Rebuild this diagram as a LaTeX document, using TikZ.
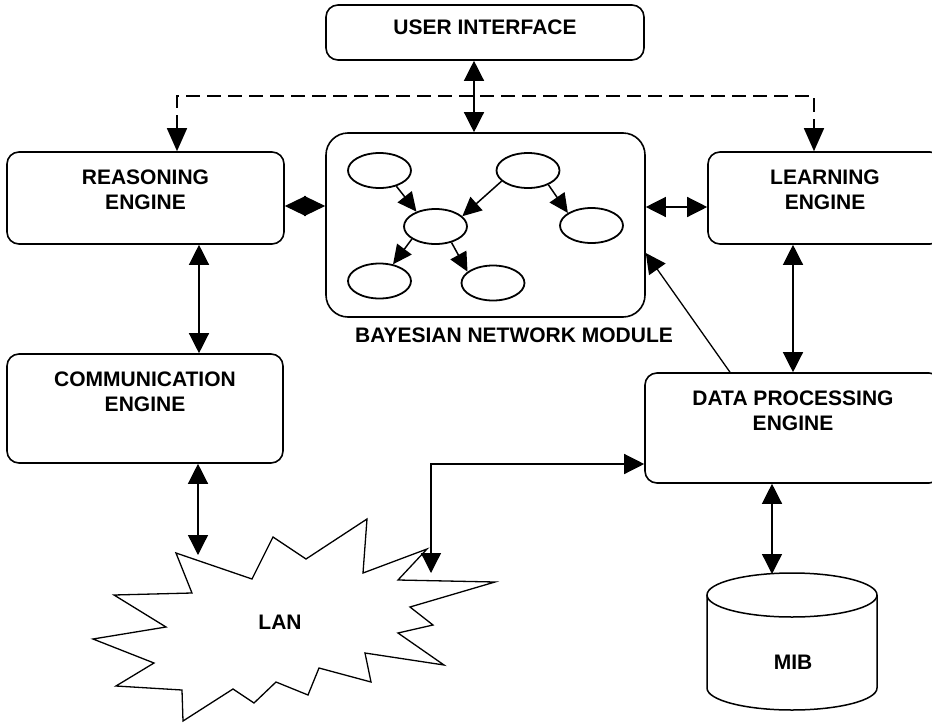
\documentclass[tikz,border=0pt]{standalone}
\usepackage{fontspec}
\setmainfont{Liberation Sans}
\usetikzlibrary{arrows.meta,shapes.geometric}
\begin{document}
\begin{tikzpicture}[x=1pt,y=-1pt,
  box/.style={draw, line width=1.6pt, rounded corners=12pt, inner sep=0pt, fill=white},
  lbl/.style={font=\fontsize{21}{25}\selectfont\bfseries, align=center, inner sep=0pt},
  bnode/.style={draw, ellipse, line width=1.8pt, minimum width=63pt, minimum height=35pt, inner sep=0pt},
  bigtip/.tip={Triangle[length=20pt,width=20pt]},
  dashtip/.tip={Triangle[length=23pt,width=20pt]},
  smalltip/.tip={Triangle[length=19pt,width=18pt]},
  conn/.style={line width=1.3pt, {bigtip}-{bigtip}},
  conn1/.style={line width=1.3pt, -{bigtip}},
  dashconn/.style={line width=1.5pt, dash pattern=on 14pt off 7pt, {dashtip}-{dashtip}},
  diam/.style={line width=1.3pt, {Triangle[length=21pt,width=20pt]}-{Triangle[length=21pt,width=20pt]}},
  bnarrow/.style={line width=1.5pt, -{smalltip}}
]
\useasboundingbox (0,0) rectangle (932,723);
\clip (0,0) rectangle (932,723);

% ---- boxes ----
\node[box, minimum width=318pt, minimum height=55pt] (ui) at (485,32.5) {};
\node[lbl] (uit) at (485,27) {USER INTERFACE};

\node[box, minimum width=277pt, minimum height=92pt] (reas) at (145.5,198) {};
\node[lbl] (reast) at (145.5,189.5) {REASONING\\ENGINE};

\node[box, minimum width=276pt, minimum height=109pt] (comm) at (145,408.5) {};
\node[lbl] (commt) at (145,392) {COMMUNICATION\\ENGINE};

\node[box, rounded corners=22pt, minimum width=319pt, minimum height=184pt] (bn) at (485.5,225) {};
\node[lbl] (bnt) at (514,335) {BAYESIAN NETWORK MODULE};

\node[box, minimum width=234pt, minimum height=92pt] (learn) at (825,198) {};
\node[lbl] (learnt) at (825,189.5) {LEARNING\\ENGINE};

\node[box, minimum width=296pt, minimum height=110pt] (dpe) at (793,428) {};
\node[lbl] (dpet) at (793,410.5) {DATA PROCESSING\\ENGINE};

% ---- Bayesian network inside the module ----
\node[bnode] (e1) at (379.5,170.5) {};
\node[bnode] (e2) at (528,170.5) {};
\node[bnode] (e3) at (435.5,226.5) {};
\node[bnode] (e4) at (591.5,225.5) {};
\node[bnode] (e5) at (379.5,281) {};
\node[bnode] (e6) at (493,283) {};
\draw[bnarrow] (e1.-43) -- (e3.142);
\draw[bnarrow] (e2.-158) -- (e3.21);
\draw[bnarrow] (e2.-35) -- (e4.152);
\draw[bnarrow] (e3.208) -- (e5.51);
\draw[bnarrow] (e3.-45) -- (e6.156);

% ---- LAN cloud ----
\draw[line width=1.3pt, fill=white] (176,553) -- (252,579) -- (273,537) -- (306,559) -- (367,519)
  -- (363,573) -- (427,549) -- (398,580) -- (495,582) -- (410,607) -- (433,625) -- (398,633)
  -- (444,665) -- (365,653) -- (371,682) -- (319,668) -- (308,695) -- (276,682) -- (254,703)
  -- (233,689) -- (183,721) -- (182,690) -- (116,686) -- (154,663) -- (93,639) -- (166,627)
  -- (114,595) -- (192,593) -- cycle;
\node[lbl] (lan) at (280,622) {LAN};

% ---- MIB store ----
\draw[line width=1.5pt, fill=white] (707,595) -- (707,688)
  .. controls (707,700.15) and (745.06,710) .. (792,710)
  .. controls (838.94,710) and (877,700.15) .. (877,688) -- (877,595);
\draw[line width=1.5pt] (792,595) ellipse [x radius=85, y radius=22];
\node[lbl] (mib) at (793,662) {MIB};

% ---- connectors ----
\coordinate (xui) at (474,0);
\draw[conn] (ui.south -| xui) -- (bn.north -| xui);

\coordinate (dl) at (177,96);
\coordinate (dr) at (814,96);
\draw[dashconn] (reas.north -| dl) -- (dl) -- (dr) -- (learn.north -| dr);

\coordinate (xrc) at (199,0);
\draw[conn] (reas.south -| xrc) -- (comm.north -| xrc);

\coordinate (ydm) at (0,206);
\draw[diam] (reas.east |- ydm) -- (bn.west |- ydm);

\coordinate (ybl) at (0,207);
\draw[conn] (bn.east |- ybl) -- (learn.west |- ybl);

\coordinate (xdb) at (730,0);
\coordinate (ybd) at (0,253);
\draw[conn1] (dpe.north -| xdb) -- (bn.east |- ybd);

\coordinate (xld) at (793,0);
\draw[conn] (learn.south -| xld) -- (dpe.north -| xld);

\coordinate (mibtop) at (772,574);
\draw[conn] (dpe.south -| mibtop) -- (mibtop);

\coordinate (lantop) at (198,555);
\draw[conn] (comm.south -| lantop) -- (lantop);

\coordinate (lanright) at (431,573);
\coordinate (ydl) at (0,464);
\draw[conn] (lanright) |- (dpe.west |- ydl);
\end{tikzpicture}
\end{document}
